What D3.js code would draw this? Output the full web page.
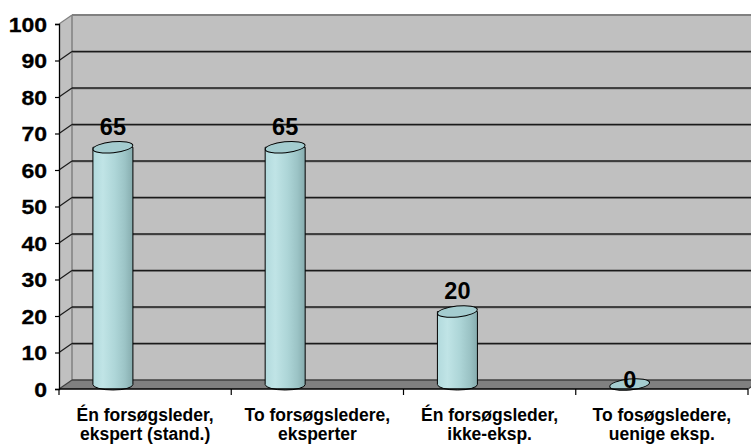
<!DOCTYPE html>
<html><head><meta charset="utf-8">
<script src="https://cdn.jsdelivr.net/npm/d3@7"></script>
<style>body{margin:0;background:#fff}svg{display:block}</style>
</head><body><svg id="c" width="751" height="444"></svg>
<script>
const categories = [
  ["Én forsøgsleder,", "ekspert (stand.)"],
  ["To forsøgsledere,", "eksperter"],
  ["Én forsøgsleder,", "ikke-eksp."],
  ["To fosøgsledere,", "uenige eksp."]
];
const values = [65, 65, 20, 0];
const yTicks = [0,10,20,30,40,50,60,70,80,90,100];

const svg = d3.select("#c");
const font = "'Liberation Sans', Arial, sans-serif";
const depth = {dx: 13, dy: -9};
const keys = categories.map((d,i)=>i);
const x = d3.scaleBand().domain(keys).range([59, 748]);
const y = d3.scaleLinear().domain([0,100]).range([389, 24]);

const defs = svg.append("defs");
const g1 = defs.append("linearGradient").attr("id","cyl").attr("x1","0").attr("x2","1").attr("y1","0").attr("y2","0");
[["0%","#b2dadd"],["25%","#c0e4e6"],["55%","#aed6d8"],["80%","#9cc4c6"],["100%","#86acae"]]
  .forEach(s=>g1.append("stop").attr("offset",s[0]).attr("stop-color",s[1]));

// back wall
const x0 = x.range()[0], x1 = x.range()[1];
svg.append("rect").attr("x", x0+depth.dx).attr("y", y(100)+depth.dy)
  .attr("width", x1 - x0 + 20).attr("height", y(0)-y(100)).attr("fill","#c0c0c0");
// side wall
svg.append("path").attr("d", `M${x0},${y(0)} L${x0},${y(100)} L${x0+depth.dx},${y(100)+depth.dy} L${x0+depth.dx},${y(0)+depth.dy} Z`)
  .attr("fill","#c0c0c0");
// floor
svg.append("path").attr("d", `M${x0},${y(0)} L${x0+depth.dx},${y(0)+depth.dy} L${x1+depth.dx},${y(0)+depth.dy} L${x1},${y(0)} Z`)
  .attr("fill","#808080");
// back wall edges
svg.append("line").attr("x1",x0+depth.dx).attr("x2",x0+depth.dx).attr("y1",y(100)+depth.dy).attr("y2",y(0)+depth.dy)
  .attr("stroke","#808080").attr("stroke-width",1.5);
svg.append("line").attr("x1",x0+depth.dx).attr("x2",x1+30).attr("y1",y(100)+depth.dy).attr("y2",y(100)+depth.dy)
  .attr("stroke","#808080").attr("stroke-width",2);
svg.append("line").attr("x1",x0).attr("x2",x0+depth.dx).attr("y1",y(100)).attr("y2",y(100)+depth.dy)
  .attr("stroke","#808080").attr("stroke-width",1.2);

// gridlines
const grid = svg.append("g");
yTicks.filter(v=>v>0 && v<100).forEach(v=>{
  grid.append("line").attr("x1",x0+depth.dx).attr("x2",x1+30).attr("y1",y(v)+depth.dy+1).attr("y2",y(v)+depth.dy+1)
    .attr("stroke","#909090").attr("stroke-width",1);
  grid.append("line").attr("x1",x0+depth.dx).attr("x2",x1+30).attr("y1",y(v)+depth.dy).attr("y2",y(v)+depth.dy)
    .attr("stroke","#1a1a1a").attr("stroke-width",1.3);
  grid.append("line").attr("x1",x0).attr("x2",x0+depth.dx).attr("y1",y(v)).attr("y2",y(v)+depth.dy)
    .attr("stroke","#1a1a1a").attr("stroke-width",1.2);
});
// floor back edge and floor diagonals
svg.append("line").attr("x1",x0+depth.dx).attr("x2",x1+30).attr("y1",y(0)+depth.dy).attr("y2",y(0)+depth.dy)
  .attr("stroke","#404040").attr("stroke-width",1.3);
svg.append("line").attr("x1",x0).attr("x2",x0+depth.dx).attr("y1",y(0)).attr("y2",y(0)+depth.dy)
  .attr("stroke","#404040").attr("stroke-width",1.2);
svg.append("line").attr("x1",x1).attr("x2",x1+depth.dx).attr("y1",y(0)).attr("y2",y(0)+depth.dy)
  .attr("stroke","#404040").attr("stroke-width",1.2);

// bars (cylinders) at mid-depth
const bw = 40, rx = bw/2, ry = 5.5;
const cx = i => x(i) + x.bandwidth()*0.313;
const ym = v => y(v) + depth.dy/2;
const bars = svg.append("g");
keys.forEach(i=>{
  const v = values[i], c = cx(i), yt = ym(v), yb = ym(0);
  if (v > 0) {
    bars.append("path")
      .attr("d", `M${c-rx},${yt} L${c-rx},${yb} A${rx},${ry} 0 0 0 ${c+rx},${yb} L${c+rx},${yt} Z`)
      .attr("fill","url(#cyl)").attr("stroke","#000").attr("stroke-width",1);
  }
  bars.append("ellipse").attr("cx",c).attr("cy",yt).attr("rx",rx).attr("ry",ry)
    .attr("transform",`rotate(-6,${c},${yt})`)
    .attr("fill","#a4cccf").attr("stroke","#000").attr("stroke-width",1);
});

// value labels
svg.append("g").selectAll("text").data(keys).join("text")
  .attr("x", i=>cx(i)).attr("y", i=> values[i] > 0 ? ym(values[i]) - 12.5 : ym(values[i]) + 3)
  .attr("text-anchor","middle").attr("font-family",font).attr("font-weight","bold").attr("font-size",23.5)
  .attr("fill","#000").text(i=>values[i]);

// y axis
const yAxis = svg.append("g").attr("transform",`translate(${x0},0)`)
  .call(d3.axisLeft(y).tickValues(yTicks).tickSize(4).tickPadding(7).tickFormat(d3.format("d")));
yAxis.select(".domain").attr("stroke","#000").attr("stroke-width",1.3);
yAxis.selectAll(".tick line").attr("stroke","#000").attr("stroke-width",1.2);
yAxis.selectAll(".tick text").attr("font-family",font).attr("font-weight","bold").attr("font-size",20)
  .attr("fill","#000").attr("x",0).attr("dy","0.36em")
  .attr("stroke","#000").attr("stroke-width",0.3)
  .attr("transform","translate(-12,0) scale(1.15,1)");

// x axis
const xa = svg.append("g");
xa.append("line").attr("x1",x0).attr("x2",x1).attr("y1",y(0)).attr("y2",y(0)).attr("stroke","#000").attr("stroke-width",1.3);
const bounds = keys.map(i=>x(i)).concat([x1]);
xa.selectAll("line.t").data(bounds).join("line").attr("class","t")
  .attr("x1",d=>d).attr("x2",d=>d).attr("y1",y(0)).attr("y2",y(0)+6).attr("stroke","#000").attr("stroke-width",1.2);
const lab = xa.selectAll("text").data(keys).join("text")
  .attr("x", i=>x(i)+x.bandwidth()/2).attr("y", y(0)+32)
  .attr("text-anchor","middle").attr("font-family",font).attr("font-weight","bold").attr("font-size",17.5).attr("fill","#000");
lab.append("tspan").attr("x", i=>x(i)+x.bandwidth()/2).text(i=>categories[i][0]);
lab.append("tspan").attr("x", i=>x(i)+x.bandwidth()/2).attr("dy",19).text(i=>categories[i][1]);
</script></body></html>
